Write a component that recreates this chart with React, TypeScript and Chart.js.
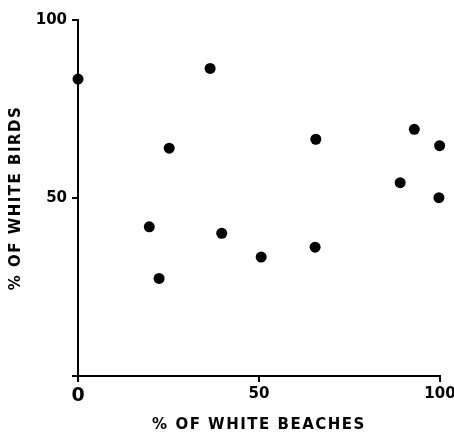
import React, { useEffect, useRef } from "react";
import { Chart, registerables } from "chart.js";

Chart.register(...registerables);

const beachesPct = [0, 36.5, 25.2, 65.7, 92.9, 99.9, 89.0, 99.7, 65.5, 50.6, 19.7, 39.7, 22.4];
const birdsPct = [83.4, 86.4, 64.0, 66.5, 69.3, 64.7, 54.3, 50.1, 36.2, 33.4, 41.9, 40.1, 27.4];
const xTitle = "% OF WHITE BEACHES";
const yTitle = "% OF WHITE BIRDS";
const FONT = "'DejaVu Sans', sans-serif";

const spacingPlugin = {
  id: "titleSpacing",
  beforeDraw(chart: any) {
    chart.ctx.letterSpacing = "1.5px";
  },
  beforeDatasetsDraw(chart: any) {
    chart.ctx.letterSpacing = "0px";
  },
};

export default function App() {
  const ref = useRef<HTMLCanvasElement>(null);
  useEffect(() => {
    if (!ref.current) return;
    const points = beachesPct.map((x, i) => ({ x, y: birdsPct[i] }));
    const chart = new Chart(ref.current, {
      type: "scatter",
      data: {
        datasets: [
          {
            data: points,
            backgroundColor: "#000",
            borderWidth: 0,
            pointRadius: 5.5,
            pointHoverRadius: 5.5,
            clip: false as any,
          },
        ],
      },
      plugins: [spacingPlugin],
      options: {
        animation: false,
        responsive: false,
        devicePixelRatio: 1,
        layout: { padding: { top: 20, right: 14, bottom: 0, left: 0 } },
        plugins: { legend: { display: false }, tooltip: { enabled: false } },
        scales: {
          x: {
            type: "linear",
            min: 0,
            max: 100,
            afterFit: (s: any) => {
              s.height = 60;
              s.paddingLeft = 0;
              s.paddingRight = 0;
              s.paddingTop = 0;
              s.paddingBottom = 0;
            },
            ticks: {
              stepSize: 50,
              color: "#000",
              padding: 3,
              maxRotation: 0,
              z: 1,
              font: (ctx: any) => ({
                family: FONT,
                weight: "bold",
                size: ctx.tick && ctx.tick.value === 0 ? 19 : 15,
              }),
            },
            grid: {
              display: true,
              drawOnChartArea: false,
              drawTicks: true,
              tickLength: 6,
              color: "#000",
              lineWidth: 2,
            },
            border: { display: true, color: "#000", width: 2 },
            title: {
              display: true,
              text: xTitle,
              color: "#000",
              font: { family: FONT, weight: "bold", size: 15 },
              padding: { top: 0, bottom: 2 },
            },
          },
          y: {
            type: "linear",
            min: 0,
            max: 100,
            afterFit: (s: any) => {
              s.width = 78;
              s.paddingLeft = 0;
              s.paddingRight = 0;
              s.paddingTop = 0;
              s.paddingBottom = 0;
            },
            ticks: {
              stepSize: 50,
              color: "#000",
              padding: 5,
              z: 1,
              font: { family: FONT, weight: "bold", size: 15 },
              callback: (v: any) => (v === 0 ? "" : String(v)),
            },
            grid: {
              display: true,
              drawOnChartArea: false,
              drawTicks: true,
              tickLength: 6,
              color: "#000",
              lineWidth: 2,
            },
            border: { display: true, color: "#000", width: 2 },
            title: {
              display: true,
              text: yTitle,
              color: "#000",
              font: { family: FONT, weight: "bold", size: 15 },
              padding: { top: 7, bottom: 0 },
            },
          },
        },
      },
    });
    return () => chart.destroy();
  }, []);
  return (
    <canvas
      ref={ref}
      width={454}
      height={436}
      style={{ position: "absolute", left: 0, top: 0, width: 454, height: 436, background: "#fff" }}
    />
  );
}
